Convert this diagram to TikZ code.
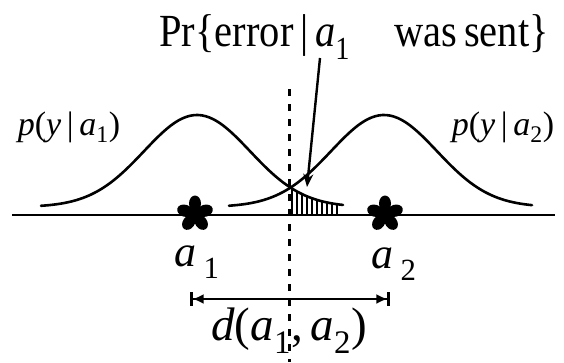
\documentclass[tikz,border=0pt]{standalone}
\usepackage{fontspec}
\setmainfont{Liberation Serif}
\usetikzlibrary{arrows.meta}

\tikzset{
  lbl/.style={inner sep=0pt, font=\fontsize{34}{36}\selectfont},
  ptlbl/.style={inner sep=0pt, font=\fontsize{44}{46}\selectfont},
  curve/.style={line width=2.6pt, line cap=round, smooth},
}
% density of y given a_1 and a_2 (peak 100 above the axis)
\newcommand{\dens}[2]{215-(8+92*exp(-0.5*((#1-#2)/53)^2))}
\newcommand{\sbs}[1]{\textsubscript{#1}}

\begin{document}
\begin{tikzpicture}[x=1pt, y=-1pt]
\useasboundingbox (0,0) rectangle (564,362);

% Achse
\draw[line width=2.6pt] (12,215) -- (555,215);

% Schwelle (gestrichelt)
\draw[line width=3pt, dash pattern=on 7pt off 8pt] (289,89) -- (289,362);

% Kurven
\draw[curve, samples=80, domain=41:343] plot (\x, {\dens{\x}{197}});
\draw[curve, samples=80, domain=229:532] plot (\x, {\dens{\x}{384}});

% Fehlerflaeche
\foreach \x in {292,297,...,340}
  \draw[line width=1.6pt] (\x,215) -- (\x, {\dens{\x}{197}});

% Sterne
\coordinate (a1pt) at (195,214);
\coordinate (a2pt) at (385,214);
\foreach \p in {a1pt, a2pt} {
  \fill (\p) circle (5);
  \foreach \ang in {270,198,126,54,342}
    \fill (\p) ++(\ang:10.5) circle [x radius=8, y radius=6, rotate=-\ang];
}

% Beschriftungen
\node[inner sep=0pt, anchor=east, font=\fontsize{46}{48}\selectfont] (title) at (549,37)
  {\scalebox{0.88}[1]{Pr\{error\,|\,\textit{a}\sbs{1}\hspace{1.1em}was\,sent\}}};
\node[lbl] (p1) at (69,127) {\textit{p}(\textit{y}\,|\,\textit{a}\sbs{1})};
\node[lbl] (p2) at (503,127) {\textit{p}(\textit{y}\,|\,\textit{a}\sbs{2})};
\node[ptlbl] (a1) at (197,262) {\textit{a}\,\sbs{1}};
\node[ptlbl] (a2) at (394,264) {\textit{a}\,\sbs{2}};
\node[ptlbl, font=\fontsize{47}{49}\selectfont] (d) at (289,331)
  {\textit{d}(\textit{a}\sbs{1},\,\textit{a}\sbs{2})};

% Pfeil zur Flaeche
\coordinate (from) at (320,58);
\coordinate (tail) at (307,187);
\draw[line width=2.4pt, -{Stealth[length=13pt, width=10pt]}] (from) -- (tail);

% Abstand
\coordinate (dl) at (190,299);
\coordinate (dr) at (390,299);
\draw[line width=2.6pt, {Bar[width=14pt]Latex[length=11pt, width=10pt]}-{Latex[length=11pt, width=10pt]Bar[width=14pt]}] (dl) -- (dr);

\end{tikzpicture}
\end{document}
